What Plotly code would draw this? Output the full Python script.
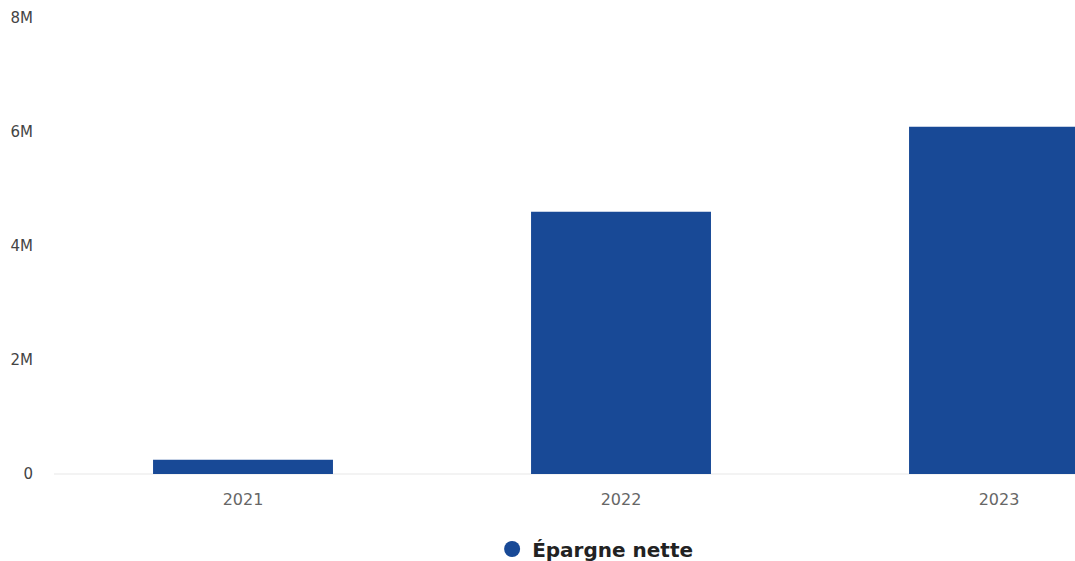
import plotly.graph_objects as go

# Net savings per year
years = ["2021", "2022", "2023"]
net_savings = [250000, 4600000, 6090000]
series_name = "Épargne nette"

y_tick_values = [0, 2000000, 4000000, 6000000, 8000000]
y_tick_labels = ["0", "2M", "4M", "6M", "8M"]

bar_color = "#184996"

fig = go.Figure()
fig.add_trace(go.Bar(
    x=years,
    y=net_savings,
    marker=dict(color=bar_color, line=dict(width=0)),
    width=0.476,
    showlegend=False,
    name=series_name,
))
# legend entry with a round marker
fig.add_trace(go.Scatter(
    x=[None], y=[None], mode="markers",
    marker=dict(symbol="circle", size=16, color=bar_color),
    name=series_name,
    showlegend=True,
))

fig.update_layout(
    width=1075, height=561,
    margin=dict(l=54, r=0, t=18, b=87, autoexpand=False),
    plot_bgcolor="white",
    paper_bgcolor="white",
    font=dict(family="DejaVu Sans, Verdana, sans-serif", color="#444"),
    showlegend=True,
    legend=dict(
        orientation="h",
        x=0.530, xanchor="center",
        y=-0.1645, yanchor="middle",
        font=dict(family="DejaVu Sans, Verdana, sans-serif", size=20, color="#222", weight="bold"),
        itemsizing="trace",
    ),
    xaxis=dict(
        type="category",
        range=[-0.5, 2.201],
        showgrid=False,
        showline=False,
        zeroline=False,
        tickfont=dict(size=16, color="#666", family="DejaVu Sans, Verdana, sans-serif"),
        ticks="",
        ticklabelstandoff=14,
    ),
    yaxis=dict(
        range=[0, 8000000],
        tickvals=y_tick_values,
        ticktext=y_tick_labels,
        showgrid=False,
        zeroline=True,
        zerolinecolor="#f3f3f3",
        showline=False,
        ticks="",
        tickfont=dict(size=15, color="#444"),
        ticklabelstandoff=20,
    ),
)

fig.write_html("out.html")
